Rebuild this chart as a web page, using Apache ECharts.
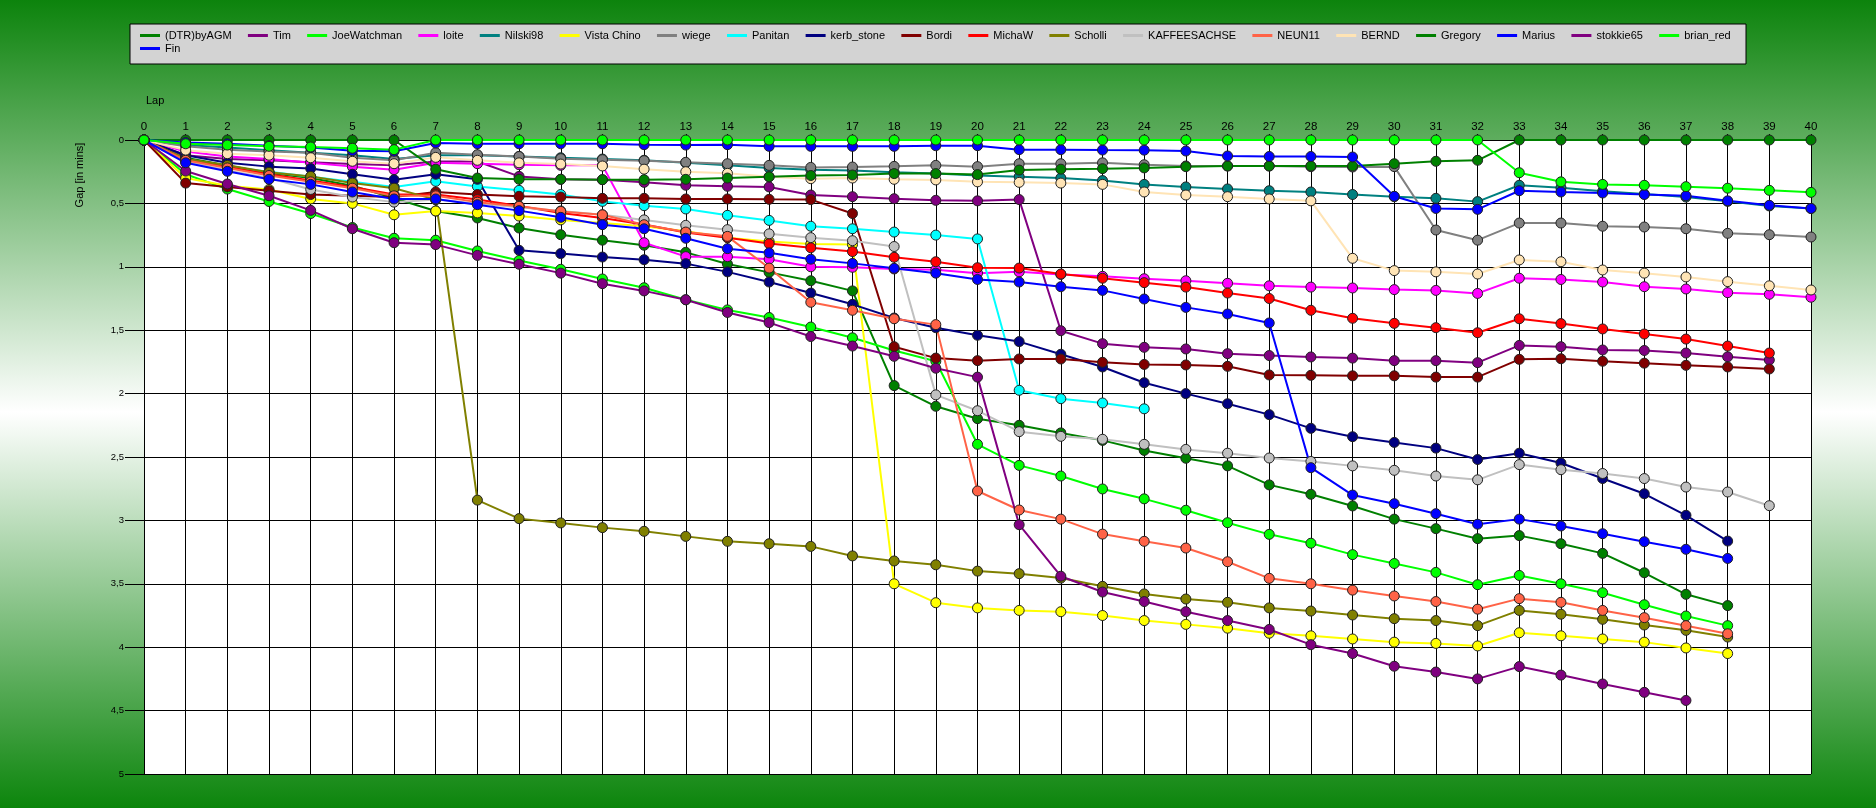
<!DOCTYPE html>
<html>
<head>
<meta charset="utf-8">
<script src="https://cdn.jsdelivr.net/npm/echarts@6/dist/echarts.min.js"></script>
<style>html,body{margin:0;padding:0;}#chart{width:1876px;height:808px;}</style>
</head>
<body>
<div id="chart"></div>
<script>
// Gap to leader (minutes), index = lap number
const DTR = [0,0.14,0.2,0.26,0.3,0.36,0.46,0.56,0.615,0.694,0.747,0.79,0.83,0.886,0.978,1.044,1.11,1.19,1.937,2.10,2.198,2.25,2.31,2.369,2.448,2.51,2.57,2.72,2.794,2.886,2.99,3.065,3.144,3.12,3.184,3.26,3.413,3.583,3.672];
const Tim = [0,0.12,0.15,0.16,0.175,0.19,0.2,0.17,0.17,0.287,0.31,0.313,0.334,0.357,0.365,0.37,0.434,0.447,0.463,0.476,0.48,0.47,1.504,1.606,1.635,1.648,1.685,1.70,1.711,1.72,1.74,1.74,1.756,1.62,1.63,1.656,1.66,1.68,1.71,1.735];
const JoeWatchman = [0,0.27,0.387,0.485,0.58,0.69,0.775,0.79,0.875,0.95,1.02,1.096,1.165,1.26,1.34,1.40,1.475,1.56,1.66,1.745,2.40,2.566,2.65,2.752,2.83,2.92,3.018,3.11,3.18,3.27,3.34,3.41,3.507,3.434,3.50,3.57,3.665,3.754,3.83];
const loite = [0,0.09,0.13,0.15,0.18,0.21,0.234,0.18,0.187,0.195,0.2,0.2,0.81,0.92,0.92,0.94,1.0,1.004,1.017,1.023,1.05,1.04,1.06,1.075,1.094,1.11,1.13,1.15,1.16,1.167,1.18,1.186,1.21,1.09,1.10,1.12,1.157,1.175,1.204,1.217,1.24];
const Nilski98 = [0,0.04,0.06,0.08,0.1,0.12,0.15,0.12,0.12,0.13,0.14,0.15,0.16,0.18,0.2,0.22,0.234,0.24,0.255,0.265,0.28,0.29,0.30,0.32,0.35,0.37,0.386,0.40,0.41,0.43,0.447,0.46,0.486,0.357,0.376,0.405,0.426,0.45,0.484,0.52,0.54];
const VistaChino = [0,0.3,0.36,0.39,0.465,0.5,0.59,0.56,0.575,0.60,0.63,0.655,0.68,0.72,0.77,0.80,0.82,0.825,3.50,3.649,3.69,3.71,3.72,3.75,3.79,3.82,3.85,3.89,3.91,3.935,3.96,3.97,3.99,3.886,3.91,3.935,3.96,4.006,4.05];
const wiege = [0,0.05,0.076,0.09,0.1,0.14,0.16,0.1,0.116,0.13,0.147,0.155,0.163,0.176,0.187,0.20,0.216,0.213,0.208,0.20,0.21,0.187,0.187,0.18,0.195,0.205,0.205,0.205,0.21,0.213,0.21,0.71,0.79,0.655,0.655,0.68,0.686,0.70,0.736,0.747,0.765];
const Panitan = [0,0.15,0.21,0.25,0.29,0.33,0.37,0.326,0.366,0.397,0.43,0.484,0.518,0.544,0.594,0.634,0.68,0.70,0.726,0.75,0.78,1.974,2.04,2.074,2.12];
const kerb_stone = [0,0.12,0.18,0.21,0.225,0.27,0.313,0.27,0.31,0.87,0.896,0.923,0.944,0.975,1.04,1.12,1.207,1.296,1.404,1.48,1.54,1.59,1.69,1.79,1.914,2.00,2.08,2.166,2.274,2.34,2.385,2.43,2.52,2.47,2.547,2.67,2.79,2.96,3.163];
const Bordi = [0,0.34,0.37,0.4,0.43,0.44,0.45,0.41,0.43,0.444,0.45,0.46,0.46,0.465,0.465,0.468,0.47,0.58,1.63,1.72,1.74,1.727,1.727,1.753,1.77,1.774,1.785,1.853,1.856,1.86,1.86,1.87,1.87,1.73,1.725,1.745,1.76,1.777,1.79,1.806];
const MichaW = [0,0.15,0.21,0.27,0.32,0.37,0.43,0.43,0.47,0.52,0.575,0.615,0.667,0.73,0.77,0.817,0.85,0.88,0.925,0.96,1.007,1.01,1.057,1.09,1.125,1.16,1.207,1.25,1.343,1.406,1.446,1.48,1.52,1.41,1.448,1.49,1.53,1.57,1.625,1.68];
const Scholli = [0,0.15,0.2,0.255,0.287,0.34,0.38,0.47,2.84,2.986,3.02,3.057,3.086,3.126,3.165,3.184,3.205,3.28,3.32,3.35,3.40,3.42,3.455,3.52,3.58,3.62,3.646,3.69,3.715,3.746,3.775,3.79,3.83,3.71,3.74,3.78,3.825,3.867,3.92];
const KAFFEESACHSE = [0,0.17,0.24,0.3,0.39,0.45,0.49,0.47,0.5,0.53,0.56,0.59,0.63,0.673,0.707,0.74,0.77,0.794,0.84,2.01,2.135,2.30,2.337,2.36,2.40,2.44,2.47,2.508,2.535,2.57,2.605,2.65,2.68,2.56,2.60,2.63,2.67,2.737,2.776,2.884];
const NEUN11 = [0,0.16,0.22,0.28,0.33,0.38,0.44,0.44,0.49,0.523,0.563,0.59,0.668,0.726,0.76,1.01,1.28,1.343,1.41,1.456,2.768,2.918,2.99,3.108,3.165,3.218,3.326,3.457,3.50,3.55,3.596,3.64,3.70,3.617,3.646,3.71,3.767,3.83,3.894];
const BERND = [0,0.08,0.108,0.12,0.14,0.168,0.187,0.137,0.16,0.18,0.19,0.205,0.23,0.25,0.263,0.29,0.305,0.30,0.31,0.315,0.33,0.334,0.34,0.35,0.41,0.434,0.447,0.465,0.48,0.933,1.03,1.04,1.057,0.946,0.96,1.025,1.05,1.08,1.117,1.15,1.183];
const Gregory = [0,0,0,0,0,0,0,0.23,0.30,0.31,0.31,0.313,0.313,0.31,0.30,0.29,0.28,0.276,0.265,0.265,0.273,0.237,0.23,0.226,0.22,0.21,0.205,0.205,0.205,0.205,0.187,0.168,0.16,0,0,0,0,0,0,0,0];
const Marius = [0,0.02,0.03,0.045,0.06,0.084,0.089,0.024,0.03,0.03,0.03,0.03,0.037,0.04,0.037,0.05,0.05,0.05,0.05,0.045,0.045,0.076,0.076,0.079,0.08,0.087,0.126,0.13,0.13,0.134,0.444,0.54,0.547,0.40,0.41,0.418,0.43,0.44,0.48,0.515,0.54];
const stokkie65 = [0,0.245,0.347,0.44,0.555,0.70,0.81,0.825,0.91,0.98,1.05,1.133,1.19,1.26,1.36,1.44,1.55,1.625,1.706,1.80,1.87,3.034,3.44,3.565,3.64,3.72,3.79,3.86,3.98,4.05,4.15,4.196,4.25,4.153,4.22,4.29,4.356,4.42];
const brian_red = [0,0.03,0.04,0.05,0.055,0.065,0.076,0,0,0,0,0,0,0,0,0,0,0,0,0,0,0,0,0,0,0,0,0,0,0,0,0,0,0.258,0.33,0.35,0.357,0.368,0.38,0.397,0.413];
const Fin = [0,0.18,0.247,0.31,0.35,0.41,0.465,0.465,0.51,0.557,0.61,0.668,0.70,0.775,0.857,0.89,0.94,0.973,1.012,1.05,1.10,1.12,1.157,1.186,1.254,1.32,1.372,1.443,2.584,2.80,2.868,2.947,3.03,2.99,3.044,3.105,3.168,3.228,3.30];

const names = ['(DTR)byAGM','Tim','JoeWatchman','loite','Nilski98','Vista Chino','wiege','Panitan','kerb_stone','Bordi','MichaW','Scholli','KAFFEESACHSE','NEUN11','BERND','Gregory','Marius','stokkie65','brian_red','Fin'];
const values = [DTR,Tim,JoeWatchman,loite,Nilski98,VistaChino,wiege,Panitan,kerb_stone,Bordi,MichaW,Scholli,KAFFEESACHSE,NEUN11,BERND,Gregory,Marius,stokkie65,brian_red,Fin];
const colors = ['#008000','#800080','#00ff00','#ff00ff','#008080','#ffff00','#808080','#00ffff','#000080','#800000','#ff0000','#808000','#c0c0c0','#ff6347','#ffe4b5','#008000','#0000ff','#800080','#00ff00','#0000ff'];
const yTicks = [0,0.5,1,1.5,2,2.5,3,3.5,4,4.5,5];

const FONT = 'Liberation Sans, Arial, sans-serif';
// draw order: leader (brian_red) last so it sits on top
const order = names.map((n,i)=>i).filter(i=>names[i]!=='brian_red').concat([names.indexOf('brian_red')]);
const series = order.map(i => ({
  name: names[i],
  type: 'line',
  data: values[i].map((v, lap) => [lap, v]),
  symbol: 'circle',
  symbolSize: 10,
  color: colors[i],
  lineStyle: {width: 2, color: colors[i]},
  itemStyle: {color: colors[i], borderColor: '#222', borderWidth: 1},
  emphasis: {disabled: true},
  animation: false
}));

const legendCommon = {padding:0, icon:'rect', itemWidth:20, itemHeight:3,
  itemStyle:{borderWidth:0}, lineStyle:{width:0},
  textStyle:{fontSize:11, color:'#000', fontFamily:FONT}, selectedMode:false};

const chart = echarts.init(document.getElementById('chart'));
chart.setOption({
  animation: false,
  backgroundColor: {type:'linear', x:0, y:0, x2:0, y2:1, colorStops:[
    {offset:0, color:'#0c830c'}, {offset:0.51, color:'#ffffff'}, {offset:1, color:'#0c850c'}]},
  grid: {left:144, right:65, top:140, bottom:34, show:true, backgroundColor:'#ffffff', borderWidth:0},
  legend: [
    Object.assign({data: names.slice(0,19), left:140, top:30, itemGap:16.3, width:1700}, legendCommon),
    Object.assign({data: ['Fin'], left:140, top:43}, legendCommon)
  ],
  graphic: [
    {type:'rect', z:-1, shape:{x:130, y:24, width:1616, height:40}, style:{fill:'#d3d3d3', stroke:'#000', lineWidth:1}},
    {type:'text', x:146, y:101, style:{text:'Lap', fontSize:11, fontFamily:FONT, fill:'#000', verticalAlign:'middle', textVerticalAlign:'middle'}},
    {type:'text', x:80, y:175, rotation:Math.PI/2, style:{text:'Gap [in mins]', fontSize:11, fontFamily:FONT, fill:'#000', align:'center', textAlign:'center', verticalAlign:'middle', textVerticalAlign:'middle'}}
  ],
  xAxis: {
    type:'value', position:'top', min:0, max:40, interval:1,
    axisLine:{show:true, onZero:false, lineStyle:{color:'#000', width:1}},
    axisTick:{show:true, length:6, lineStyle:{color:'#000'}},
    axisLabel:{fontSize:11.5, color:'#000', margin:7, fontFamily:FONT},
    splitLine:{show:true, lineStyle:{color:'#000', width:1}}
  },
  yAxis: {
    type:'value', inverse:true, min:yTicks[0], max:yTicks[yTicks.length-1], interval:0.5,
    axisLine:{show:true, onZero:false, lineStyle:{color:'#000', width:1}},
    axisTick:{show:true, length:19, lineStyle:{color:'#000'}},
    axisLabel:{fontSize:9.5, color:'#000', margin:20, fontFamily:FONT, formatter: v => String(v).replace('.', ',')},
    splitLine:{show:true, lineStyle:{color:'#000', width:1}}
  },
  tooltip: {show:false},
  series: series
});
</script>
</body>
</html>
